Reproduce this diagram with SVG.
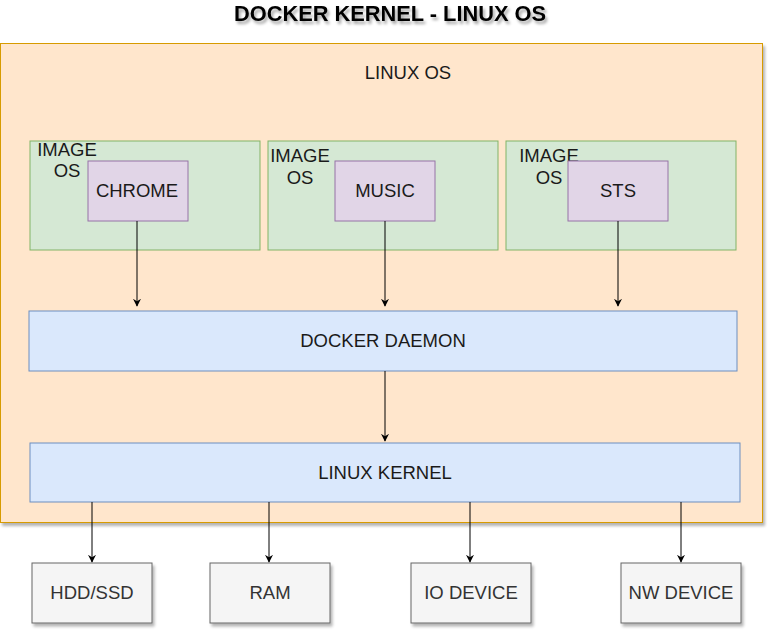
<svg xmlns="http://www.w3.org/2000/svg" width="772" height="635" viewBox="0 0 772 635">
<defs>
<filter id="sh" x="-10%" y="-10%" width="130%" height="140%">
<feGaussianBlur in="SourceAlpha" stdDeviation="1.5"/>
<feOffset dx="2" dy="3" result="b"/>
<feComponentTransfer><feFuncA type="linear" slope="0.3"/></feComponentTransfer>
<feMerge><feMergeNode/><feMergeNode in="SourceGraphic"/></feMerge>
</filter>
<filter id="tsh" x="-10%" y="-30%" width="120%" height="180%">
<feGaussianBlur in="SourceAlpha" stdDeviation="1.5"/>
<feOffset dx="2" dy="3" result="b"/>
<feComponentTransfer><feFuncA type="linear" slope="0.35"/></feComponentTransfer>
<feMerge><feMergeNode/><feMergeNode in="SourceGraphic"/></feMerge>
</filter>
<marker id="arr" viewBox="0 0 10 10" refX="9" refY="5" markerWidth="8" markerHeight="8" markerUnits="userSpaceOnUse" orient="auto">
<path d="M0,0 L10,5 L0,10 L3,5 Z" fill="#000"/>
</marker>
</defs>
<style>
text{font-family:"Liberation Sans",Arial,sans-serif;font-size:18.5px;fill:#1a1a1a;text-anchor:middle}
.outer{fill:#ffe6cc;stroke:#d79b00;stroke-width:1}
.img{fill:#d5e8d4;stroke:#82b366;stroke-width:1}
.app{fill:#e1d5e7;stroke:#9673a6;stroke-width:1}
.blue{fill:#dae8fc;stroke:#6c8ebf;stroke-width:1}
.dev{fill:#f5f5f5;stroke:#666666;stroke-width:1}
.dev-t{fill:#333333}
.title{font-weight:bold;font-size:21.8px;fill:#000}
.conn{stroke:#000;stroke-width:1;fill:none;marker-end:url(#arr)}
</style>
<rect width="772" height="635" fill="#fff"/>
<g id="title"><text class="title" x="390" y="21" filter="url(#tsh)">DOCKER KERNEL - LINUX OS</text></g>
<g id="linux-os"><rect class="outer" x="0.5" y="43.5" width="762" height="479" filter="url(#sh)"/><text x="408" y="79">LINUX OS</text></g>
<g id="image-os-1"><rect class="img" x="30" y="141" width="230" height="109"/><text x="67" y="156">IMAGE</text><text x="67" y="177">OS</text></g>
<g id="image-os-2"><rect class="img" x="268" y="141" width="230" height="109"/><text x="300" y="162">IMAGE</text><text x="300" y="184">OS</text></g>
<g id="image-os-3"><rect class="img" x="506" y="141" width="230" height="109"/><text x="549" y="162">IMAGE</text><text x="549" y="184">OS</text></g>
<g id="chrome"><rect class="app" x="88" y="161" width="100" height="60"/><text x="137" y="197">CHROME</text></g>
<g id="music"><rect class="app" x="335" y="161" width="100" height="60"/><text x="385" y="197">MUSIC</text></g>
<g id="sts"><rect class="app" x="568" y="161" width="100" height="60"/><text x="618" y="197">STS</text></g>
<g id="docker-daemon"><rect class="blue" x="29" y="311" width="708" height="60"/><text x="383" y="347">DOCKER DAEMON</text></g>
<g id="linux-kernel"><rect class="blue" x="30" y="443" width="710" height="59"/><text x="385" y="479">LINUX KERNEL</text></g>
<g id="hdd"><rect class="dev" x="32" y="563" width="120" height="60" filter="url(#sh)"/><text class="dev-t" x="92" y="599">HDD/SSD</text></g>
<g id="ram"><rect class="dev" x="210" y="563" width="120" height="60" filter="url(#sh)"/><text class="dev-t" x="270" y="599">RAM</text></g>
<g id="io"><rect class="dev" x="411" y="563" width="120" height="60" filter="url(#sh)"/><text class="dev-t" x="471" y="599">IO DEVICE</text></g>
<g id="nw"><rect class="dev" x="621" y="563" width="120" height="60" filter="url(#sh)"/><text class="dev-t" x="681" y="599">NW DEVICE</text></g>
<g id="connectors">
<line class="conn" x1="137" y1="221" x2="137" y2="306"/>
<line class="conn" x1="385" y1="221" x2="385" y2="306"/>
<line class="conn" x1="618" y1="221" x2="618" y2="306"/>
<line class="conn" x1="385" y1="371" x2="385" y2="441"/>
<line class="conn" x1="92" y1="502" x2="92" y2="562"/>
<line class="conn" x1="269" y1="502" x2="269" y2="562"/>
<line class="conn" x1="470" y1="502" x2="470" y2="562"/>
<line class="conn" x1="681" y1="502" x2="681" y2="562"/>
</g>
</svg>
